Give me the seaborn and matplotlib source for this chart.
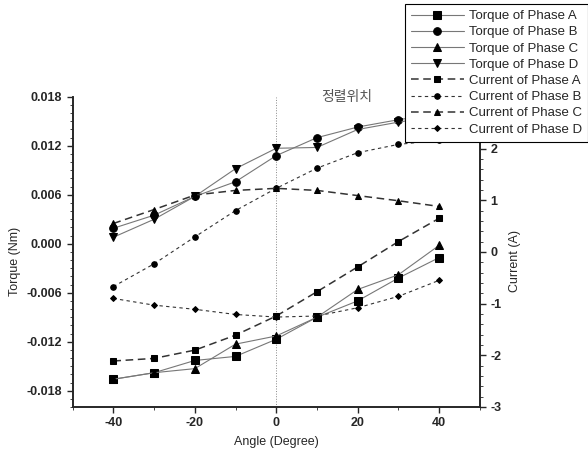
import matplotlib

matplotlib.use("Agg")
import matplotlib.pyplot as plt
import pandas as pd
import seaborn as sns
from matplotlib.ticker import MultipleLocator, FixedLocator, FormatStrFormatter

ANGLES = [-40, -30, -20, -10, 0, 10, 20, 30, 40]

TORQUE_A = [-0.0166, -0.0158, -0.0143, -0.0138, -0.0117, -0.0090, -0.0070, -0.0042, -0.0017]
TORQUE_B = [0.0019, 0.0035, 0.0058, 0.0076, 0.0108, 0.0130, 0.0143, 0.0152, 0.0159]
TORQUE_C = [-0.0166, -0.0158, -0.0153, -0.0123, -0.0113, -0.0090, -0.0056, -0.0038, -0.0002]
TORQUE_D = [0.0008, 0.0030, 0.0058, 0.0092, 0.0117, 0.0118, 0.0140, 0.0149, 0.0157]

CURRENT_A = [-2.11, -2.06, -1.90, -1.61, -1.24, -0.77, -0.29, 0.20, 0.65]
CURRENT_B = [-0.67, -0.23, 0.29, 0.80, 1.23, 1.62, 1.92, 2.08, 2.16]
CURRENT_C = [0.55, 0.82, 1.10, 1.19, 1.23, 1.19, 1.09, 0.99, 0.88]
CURRENT_D = [-0.90, -1.03, -1.11, -1.21, -1.26, -1.24, -1.08, -0.86, -0.55]

CURRENT_TICKS = [-3, -2, -1, 0, 1, 2]

PHASES = ["A", "B", "C", "D"]
TORQUE_MARKERS = ["s", "o", "^", "v"]
CURRENT_MARKERS = ["s", "o", "^", "D"]

sns.set_style("ticks")
plt.rcParams["font.family"] = ["Liberation Sans", "Noto Sans CJK KR", "DejaVu Sans"]
plt.rcParams["axes.unicode_minus"] = False

fig = plt.figure(figsize=(5.88, 4.59), dpi=100)
ax = fig.add_axes([0.1236, 0.1133, 0.816 - 0.1236, 0.789 - 0.1133])
ax2 = ax.twinx()

torque_df = pd.DataFrame({"angle": ANGLES, "A": TORQUE_A, "B": TORQUE_B, "C": TORQUE_C, "D": TORQUE_D})
current_df = pd.DataFrame({"angle": ANGLES, "A": CURRENT_A, "B": CURRENT_B, "C": CURRENT_C, "D": CURRENT_D})

handles = []
for phase, mk in zip(PHASES, TORQUE_MARKERS):
    sns.lineplot(data=torque_df, x="angle", y=phase, ax=ax, color="#777777", lw=0.8,
                 marker=mk, markersize=5.5, markerfacecolor="black", markeredgecolor="black",
                 label=f"Torque of Phase {phase}", legend=False)
    handles.append(ax.lines[-1])

cur_styles = {"A": ((0, (5, 3)), 1.1), "B": ((0, (3, 3)), 0.8),
              "C": ((0, (5, 3)), 1.1), "D": ((0, (3, 3)), 0.8)}
for phase, mk in zip(PHASES, CURRENT_MARKERS):
    ls, lw = cur_styles[phase]
    sns.lineplot(data=current_df, x="angle", y=phase, ax=ax2, color="#333333", lw=lw,
                 linestyle=ls, marker=mk, markersize=4 if mk != "D" else 3,
                 markerfacecolor="black", markeredgecolor="black",
                 label=f"Current of Phase {phase}", legend=False)
    handles.append(ax2.lines[-1])

ax.axvline(0, color="#888888", lw=0.7, ls=":", zorder=0)

ax.set_xlim(-50, 50)
ax.set_ylim(-0.020, 0.018)
ax2.set_ylim(-3, 3)

ax.xaxis.set_major_locator(MultipleLocator(20))
ax.xaxis.set_minor_locator(MultipleLocator(10))
ax.yaxis.set_major_locator(MultipleLocator(0.006))
ax.yaxis.set_minor_locator(MultipleLocator(0.001))
ax.yaxis.set_major_formatter(FormatStrFormatter("%.3f"))
ax2.yaxis.set_major_locator(FixedLocator(CURRENT_TICKS))
ax2.yaxis.set_minor_locator(MultipleLocator(0.2))

for a in (ax, ax2):
    a.tick_params(axis="both", which="major", length=4, width=1, labelsize=9)
    a.tick_params(axis="both", which="minor", length=2, width=0.6)
    for lab in a.get_xticklabels() + a.get_yticklabels():
        lab.set_fontweight("bold")

ax.spines["top"].set_visible(False)
ax2.spines["top"].set_visible(False)
for a in (ax, ax2):
    for sp in a.spines.values():
        sp.set_linewidth(1.2)

ax.set_xlabel("Angle (Degree)", fontsize=9, labelpad=5)
ax.set_ylabel("Torque (Nm)", fontsize=9)
ax.yaxis.set_label_coords(-0.128, 0.47)
ax2.set_ylabel("Current (A)", fontsize=9)
ax2.yaxis.set_label_coords(1.071, 0.47)

ax.text(11, 0.0180, "정렬위치", fontsize=10, color="#555555",
        family=["Noto Sans CJK KR", "DejaVu Sans"], ha="left", va="center")

leg = fig.legend(handles=handles, labels=[h.get_label() for h in handles],
                 loc="upper left", bbox_to_anchor=(0.689, 0.991), borderaxespad=0,
                 fontsize=9.5, frameon=True, fancybox=False, framealpha=1, edgecolor="black",
                 handlelength=4.0, labelspacing=0.3, borderpad=0.45, handletextpad=0.4)
leg.get_frame().set_linewidth(0.8)

fig.savefig("out.png", dpi=100)
